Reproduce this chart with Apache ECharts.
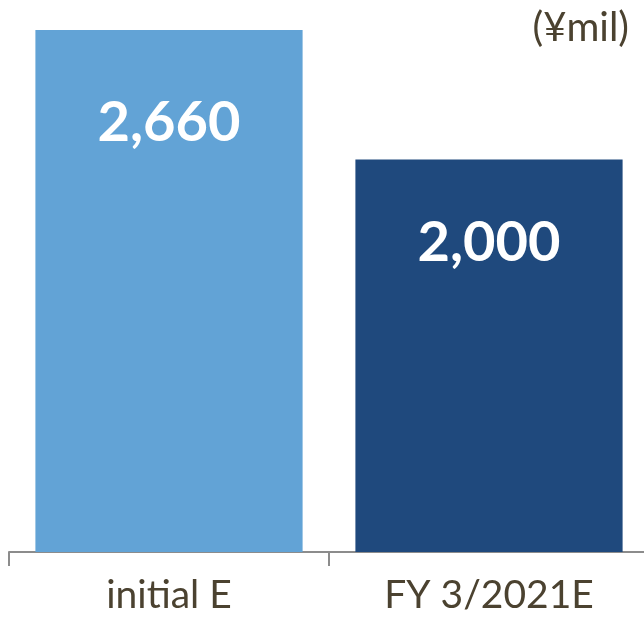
<!DOCTYPE html>
<html>
<head>
<meta charset="utf-8">
<script src="https://cdn.jsdelivr.net/npm/echarts@6/dist/echarts.min.js"></script>
<style>
  html, body { margin: 0; padding: 0; background: #ffffff; }
  #chart { width: 644px; height: 621px; }
</style>
</head>
<body>
<div id="chart"></div>
<script>
// Forecast comparison, in millions of yen
const categories = ['initial E', 'FY 3/2021E'];
const values = [2660, 2000];
const barColors = ['#62a3d6', '#1f497d'];
const labelOffsets = [65, 55];
const unitLabel = '(¥mil)';

const chart = echarts.init(document.getElementById('chart'), null, { renderer: 'canvas' });

chart.setOption({
  animation: false,
  backgroundColor: '#ffffff',
  grid: {
    left: 9, width: 640, top: 30, bottom: 69,
    containLabel: false, outerBoundsMode: 'none'
  },
  title: {
    text: unitLabel,
    right: 10,
    top: 3,
    textStyle: { fontFamily: 'Lato', fontWeight: 'normal', fontSize: 40, color: '#4b4230' }
  },
  xAxis: {
    type: 'category',
    data: categories,
    axisLine: { lineStyle: { color: '#8c8c8c', width: 2 } },
    axisTick: { show: true, length: 14, lineStyle: { color: '#8c8c8c', width: 2 } },
    axisLabel: {
      fontFamily: 'Lato', fontSize: 39, color: '#4b4230', margin: 24
    }
  },
  yAxis: {
    type: 'value',
    min: 0,
    max: 2660,
    show: false,
    splitLine: { show: false }
  },
  series: [{
    type: 'bar',
    data: values.map((v, i) => ({
      value: v,
      itemStyle: { color: barColors[i] },
      label: { distance: labelOffsets[i] }
    })),
    barCategoryGap: '16.5%',
    label: {
      show: true,
      position: 'insideTop',
      fontFamily: 'Lato',
      fontWeight: 'bold',
      fontSize: 56,
      color: '#ffffff',
      formatter: p => p.value.toLocaleString('en-US')
    }
  }]
});
</script>
</body>
</html>
